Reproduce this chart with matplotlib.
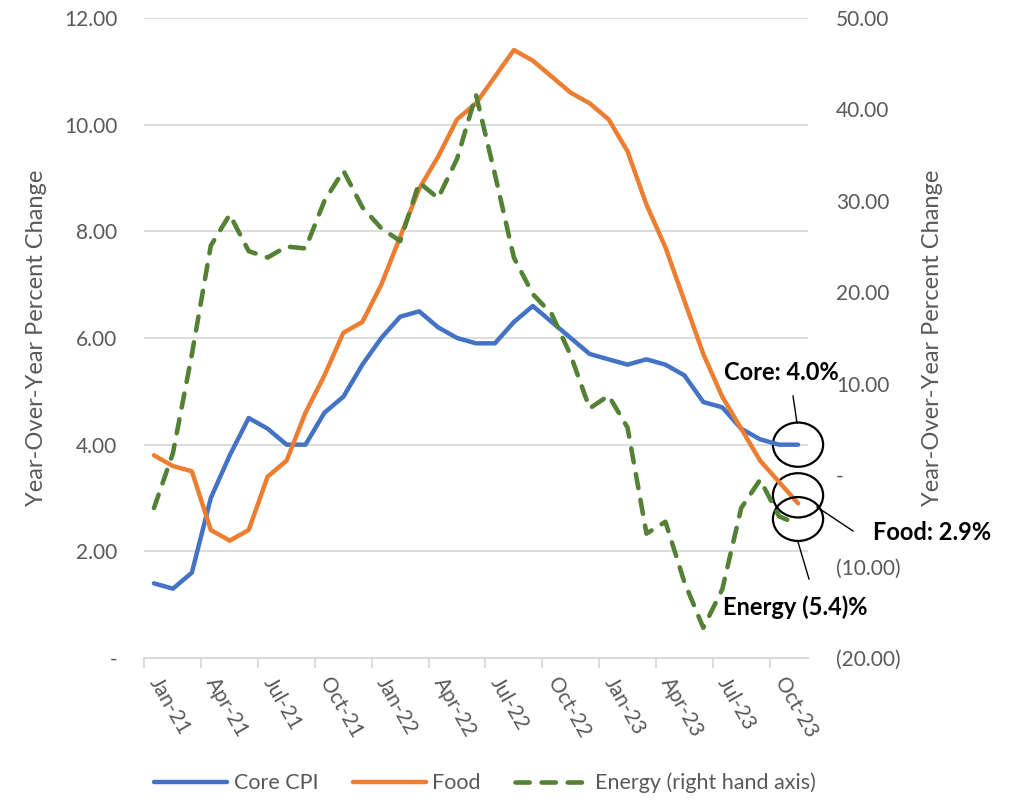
import matplotlib
matplotlib.use("Agg")
import matplotlib.pyplot as plt
from matplotlib.patches import Ellipse
from matplotlib.ticker import FuncFormatter, MultipleLocator
import numpy as np
import pandas as pd

plt.rcParams['font.family'] = ['Lato', 'DejaVu Sans']

# monthly categories, Jan-21 .. Nov-23
months = pd.date_range('2021-01-01', periods=35, freq='MS').strftime('%b-%y').tolist()

core_cpi = [1.4, 1.3, 1.6, 3.0, 3.8, 4.5, 4.3, 4.0, 4.0, 4.6, 4.9, 5.5,
            6.0, 6.4, 6.5, 6.2, 6.0, 5.9, 5.9, 6.3, 6.6, 6.3, 6.0, 5.7,
            5.6, 5.5, 5.6, 5.5, 5.3, 4.8, 4.7, 4.3, 4.1, 4.0, 4.0]
food = [3.8, 3.6, 3.5, 2.4, 2.2, 2.4, 3.4, 3.7, 4.6, 5.3, 6.1, 6.3,
        7.0, 7.9, 8.8, 9.4, 10.1, 10.4, 10.9, 11.4, 11.2, 10.9, 10.6, 10.4,
        10.1, 9.5, 8.5, 7.7, 6.7, 5.7, 4.9, 4.3, 3.7, 3.3, 2.9]
energy = [-3.6, 2.4, 13.2, 25.1, 28.5, 24.5, 23.8, 25.0, 24.8, 30.0, 33.3, 29.3,
          27.0, 25.6, 32.0, 30.3, 34.6, 41.6, 32.9, 23.8, 19.8, 17.6, 13.1, 7.3,
          8.7, 5.2, -6.4, -5.1, -11.7, -16.7, -12.5, -3.6, -0.5, -4.5, -5.4]

blue = '#4472C4'
orange = '#ED7D31'
green = '#548235'
gray = '#595959'
grid = '#D9D9D9'


def acct(v, pos=None):
    # Excel accounting style: zero is a dash, negatives in brackets
    if abs(v) < 1e-9:
        return '-'
    if v < 0:
        return '({:.2f})'.format(abs(v))
    return '{:.2f}'.format(v)


x = np.arange(len(months))

fig = plt.figure(figsize=(10.2, 8), dpi=100)
ax = fig.add_axes([144.5 / 1020, 142 / 800, 663 / 1020, 640 / 800])
ax2 = ax.twinx()

l1, = ax.plot(x, core_cpi, color=blue, lw=3.2, label='Core CPI', solid_capstyle='round')
l2, = ax.plot(x, food, color=orange, lw=3.2, label='Food', solid_capstyle='round')
l3, = ax2.plot(x, energy, color=green, lw=3.3, dashes=(3.1, 2.6), dash_capstyle='round',
               label='Energy (right hand axis)')

ax.set_xlim(-0.5, len(months) - 0.5)
ax.set_ylim(0, 12)
ax2.set_ylim(-20, 50)
ax.yaxis.set_major_locator(MultipleLocator(2))
ax2.yaxis.set_major_locator(MultipleLocator(10))
ax.yaxis.set_major_formatter(FuncFormatter(acct))
ax2.yaxis.set_major_formatter(FuncFormatter(acct))

ax.grid(axis='y', color=grid, lw=1.3)
ax.set_axisbelow(True)
for a in (ax, ax2):
    for s in ('top', 'left', 'right'):
        a.spines[s].set_visible(False)
    a.spines['bottom'].set_color(grid)
    a.spines['bottom'].set_linewidth(1.3)
    a.tick_params(axis='y', length=0, labelsize=15, labelcolor=gray)
ax.tick_params(axis='y', pad=19.5)
ax2.tick_params(axis='y', pad=20.5)

# labels every third month, tick marks on category borders
ax.set_xticks(x[::3])
ax.set_xticklabels(months[::3], rotation=-60, rotation_mode='anchor',
                   ha='left', va='center', fontsize=15, color=gray)
ax.tick_params(axis='x', which='major', length=0, pad=15)
ax.set_xticks(np.arange(-0.5, len(months), 3), minor=True)
ax.tick_params(axis='x', which='minor', length=7, color=grid, width=1.3)

ax.set_ylabel('Year-Over-Year Percent Change', fontsize=17, color=gray)
ax2.set_ylabel('Year-Over-Year Percent Change', fontsize=17, color=gray, rotation=90)
ax.yaxis.set_label_coords(-0.147, 0.5)
ax2.yaxis.set_label_coords(1.173, 0.5)

# circles on the latest readings
last = len(months) - 1
ax.add_patch(Ellipse((last, core_cpi[-1]), 2.65, 0.83, fill=False, ec='black', lw=1.6, clip_on=False))
ax.add_patch(Ellipse((last, food[-1] + 0.15), 2.65, 0.83, fill=False, ec='black', lw=1.6, clip_on=False))
ax2.add_patch(Ellipse((last, energy[-1] + 0.6), 2.65, 4.8, fill=False, ec='black', lw=1.6, clip_on=False))

lbl = dict(fontsize=17, fontweight='bold', color='black')
fig.text(781 / 1020, 1 - 372 / 800, 'Core: {:.1f}%'.format(core_cpi[-1]), ha='center', va='center', **lbl)
fig.text(873 / 1020, 1 - 532 / 800, 'Food: {:.1f}%'.format(food[-1]), ha='left', va='center', **lbl)
fig.text(723 / 1020, 1 - 607 / 800, 'Energy ({:.1f})%'.format(abs(energy[-1])), ha='left', va='center', **lbl)
for (xa, ya), (xb, yb) in [((793, 396), (797, 423)),
                           ((817, 507), (853, 531)),
                           ((798, 542), (809, 579))]:
    fig.add_artist(plt.Line2D([xa / 1020, xb / 1020], [1 - ya / 800, 1 - yb / 800],
                              color='black', lw=1.0, transform=fig.transFigure))

leg = fig.legend(handles=[l1, l2, l3], loc='center', bbox_to_anchor=(485 / 1020, 1 - 783 / 800),
                 ncol=3, frameon=False, fontsize=15.5, handlelength=3.4, columnspacing=1.6,
                 handletextpad=0.3)
for t in leg.get_texts():
    t.set_color(gray)

fig.savefig('out.png', dpi=100)
